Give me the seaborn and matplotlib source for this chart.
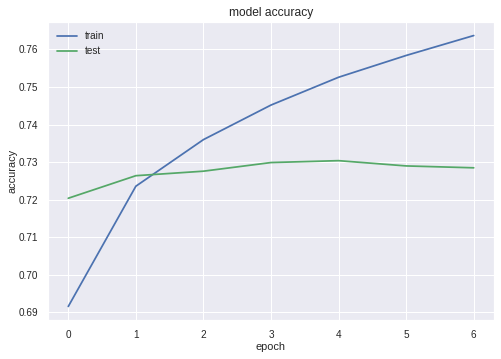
import numpy as np
import pandas as pd
import matplotlib
matplotlib.use("Agg")
import matplotlib.pyplot as plt
import seaborn as sns

# --- Data ---
epochs = [0, 1, 2, 3, 4, 5, 6]
train_acc = [0.6916, 0.7236, 0.7360, 0.7452, 0.7526, 0.7584, 0.7637]
test_acc = [0.7204, 0.7264, 0.7276, 0.7299, 0.7304, 0.7290, 0.7285]

sns.set_theme(style="darkgrid", rc={
    "axes.labelsize": 11,
    "axes.titlesize": 12,
    "xtick.labelsize": 10,
    "ytick.labelsize": 10,
    "legend.fontsize": 10,
    "lines.linewidth": 1.75,
    "text.color": ".15",
    "axes.labelcolor": ".15",
    "xtick.color": ".15",
    "ytick.color": ".15",
})
plt.rcParams["font.family"] = ["Liberation Sans", "DejaVu Sans"]

fig = plt.figure(figsize=(501 / 72, 359 / 72), dpi=72)
ax = fig.add_axes([48 / 501, 1 - 320 / 359, (494 - 48) / 501, (320 - 22) / 359])

sns.lineplot(x=epochs, y=train_acc, color="#4C72B0", label="train", ax=ax)
sns.lineplot(x=epochs, y=test_acc, color="#55A868", label="test", ax=ax)

ax.set_title("model accuracy")
ax.set_xlabel("epoch", labelpad=2)
ax.set_ylabel("accuracy", labelpad=1)
ax.legend(loc="upper left", frameon=False)

fig.savefig("out.png", dpi=72)
